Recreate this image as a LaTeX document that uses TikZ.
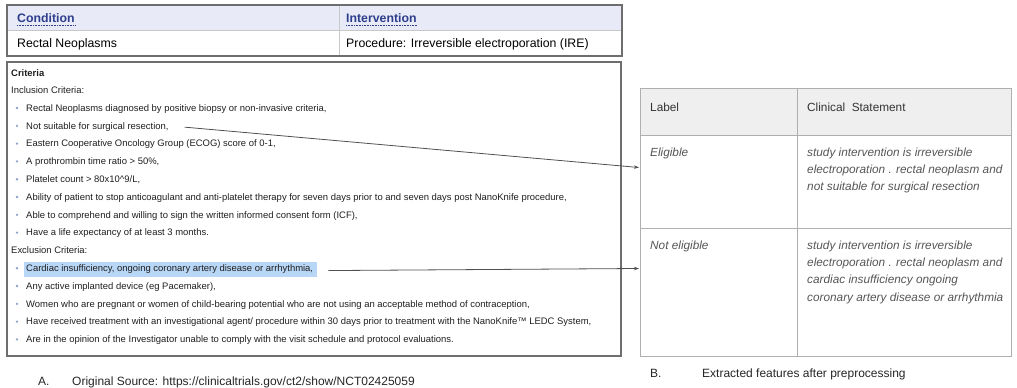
\documentclass[tikz,border=0pt]{standalone}
\usepackage{fontspec}
\setmainfont{Liberation Sans}
\usetikzlibrary{arrows.meta}
\definecolor{hdrblue}{RGB}{45,62,140}
\definecolor{hdrfill}{RGB}{232,234,248}
\definecolor{boxgray}{RGB}{110,110,110}
\definecolor{cellgray}{RGB}{200,200,200}
\definecolor{bulletc}{RGB}{140,160,200}
\definecolor{hilite}{RGB}{184,214,245}
\definecolor{tblgray}{RGB}{175,175,175}
\definecolor{tblhead}{RGB}{239,239,239}
\definecolor{stmt}{RGB}{85,85,85}
\definecolor{arrowc}{RGB}{80,80,80}
\tikzset{
  crit/.style={anchor=base west, inner sep=0pt, font=\fontsize{9.45}{11}\selectfont, text=black!88},
  topt/.style={anchor=base west, inner sep=0pt, font=\fontsize{12.3}{14}\selectfont},
  toph/.style={anchor=base west, inner sep=0pt, font=\fontsize{12.3}{14}\selectfont\bfseries, text=hdrblue},
  rhead/.style={anchor=base west, inner sep=0pt, font=\fontsize{11.8}{14}\selectfont, text=black!80},
  rstmt/.style={anchor=base west, inner sep=0pt, font=\fontsize{11.8}{14}\selectfont\itshape, text=stmt},
  capt/.style={anchor=base west, inner sep=0pt, font=\fontsize{12}{14}\selectfont, text=black!85},
  bul/.style={circle, fill=bulletc, inner sep=0pt, minimum size=2.6pt},
  link/.style={draw=arrowc, line width=0.8pt, -{Stealth[length=5pt,width=3.5pt]}},
  dotu/.style={hdrblue, densely dotted, line width=0.6pt},
}
\begin{document}
\begin{tikzpicture}[x=1pt,y=-1pt]
\useasboundingbox (0,0) rectangle (1017,388);
% ---------- top table ----------
\fill[hdrfill] (7,5) rectangle (622,30);
\draw[cellgray, line width=0.8pt] (7,30.5) -- (622,30.5);
\draw[cellgray, line width=0.8pt] (339,5) -- (339,56);
\draw[boxgray, line width=1.6pt] (7,5) rectangle (622,56);
\node[toph] (hcond) at (17,22.5) {Condition};
\node[toph] (hint) at (346,22.5) {Intervention};
\draw[dotu] ([yshift=-2.5pt]hcond.base west) -- ([yshift=-2.5pt]hcond.base east);
\draw[dotu] ([yshift=-2.5pt]hint.base west) -- ([yshift=-2.5pt]hint.base east);
\node[topt] (cond) at (17,47.5) {Rectal Neoplasms};
\node[topt] (intv) at (346,47.5) {Procedure: Irreversible electroporation (IRE)};
% ---------- criteria box ----------
\draw[boxgray, line width=1.3pt] (7,62) rectangle (621,356);
\fill[hilite] (24,261.5) rectangle (317,277);
\node[crit, font=\fontsize{9.45}{11}\selectfont\bfseries] (crh) at (11,76.5) {Criteria};
\node[crit] (inc) at (11,93.8) {Inclusion Criteria:};
\foreach \yy/\nm/\txt in {
  111.3/i1/{Rectal Neoplasms diagnosed by positive biopsy or non-invasive criteria,},
  129.1/i2/{Not suitable for surgical resection,},
  146.9/i3/{Eastern Cooperative Oncology Group (ECOG) score of 0-1,},
  164.7/i4/{A prothrombin time ratio > 50\%,},
  182.5/i5/{Platelet count > 80x10\^{}9/L,},
  200.3/i6/{Ability of patient to stop anticoagulant and anti-platelet therapy for seven days prior to and seven days post NanoKnife procedure,},
  218.1/i7/{Able to comprehend and willing to sign the written informed consent form (ICF),},
  235.9/i8/{Have a life expectancy of at least 3 months.},
  271.5/e1/{Cardiac insufficiency, ongoing coronary artery disease or arrhythmia,},
  289.3/e2/{Any active implanted device (eg Pacemaker),},
  307.1/e3/{Women who are pregnant or women of child-bearing potential who are not using an acceptable method of contraception,},
  324.9/e4/{Have received treatment with an investigational agent/ procedure within 30 days prior to treatment with the NanoKnife™ LEDC System,},
  342.7/e5/{Are in the opinion of the Investigator unable to comply with the visit schedule and protocol evaluations.}}
{
  \node[bul] (b\nm) at (17,\yy-3.3) {};
  \node[crit] (\nm) at (26,\yy) {\txt};
}
\node[crit] (exc) at (11,253.7) {Exclusion Criteria:};
% ---------- right table ----------
\fill[tblhead] (640,88) rectangle (1011,135);
\draw[tblgray, line width=1pt] (640,88) rectangle (1011,356);
\draw[tblgray, line width=1pt] (640,135) -- (1011,135);
\draw[tblgray, line width=1pt] (640,228) -- (1011,228);
\draw[tblgray, line width=1pt] (797,88) -- (797,356);
\node[rhead] (hlab) at (650,111) {Label};
\node[rhead] (hcs) at (807,111) {Clinical\ \ Statement};
\node[rstmt] (lab1) at (650,156) {Eligible};
\node[rstmt] (s1a) at (807,156) {study intervention is irreversible};
\node[rstmt] (s1b) at (807,173.2) {electroporation . rectal neoplasm and};
\node[rstmt] (s1c) at (807,190.4) {not suitable for surgical resection};
\node[rstmt] (lab2) at (650,249.5) {Not eligible};
\node[rstmt] (s2a) at (807,249.5) {study intervention is irreversible};
\node[rstmt] (s2b) at (807,266.7) {electroporation . rectal neoplasm and};
\node[rstmt] (s2c) at (807,283.9) {cardiac insufficiency ongoing};
\node[rstmt] (s2d) at (807,301.1) {coronary artery disease or arrhythmia};
% ---------- connectors ----------
\coordinate (a1s) at ([xshift=16pt,yshift=-0.5pt]i2.east);
\coordinate (a1e) at (639,167.5);
\coordinate (a2s) at ([xshift=15pt,yshift=-1.5pt]e1.east);
\coordinate (a2e) at (639,268.5);
\draw[link] (a1s) -- (a1e);
\draw[link] (a2s) -- (a2e);
% ---------- captions ----------
\node[capt] (ca) at (38,385) {A.};
\node[capt] (cat) at (72,385) {Original Source: https://clinicaltrials.gov/ct2/show/NCT02425059};
\node[capt] (cb) at (650,377) {B.};
\node[capt] (cbt) at (702,377) {Extracted features after preprocessing};
\end{tikzpicture}
\end{document}
